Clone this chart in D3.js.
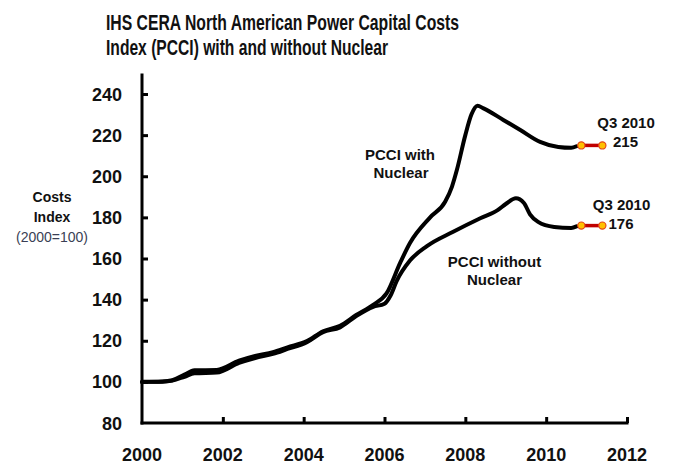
<!DOCTYPE html>
<html><head><meta charset="utf-8">
<script src="https://cdn.jsdelivr.net/npm/d3@7"></script>
<style>
html,body{margin:0;padding:0;background:#fff;}
svg{display:block;font-family:"Liberation Sans",Arial,sans-serif;}
</style></head>
<body><svg id="c" width="683" height="465"></svg>
<script>
const titleLines = ["IHS CERA North American Power Capital Costs", "Index (PCCI) with and without Nuclear"];
const yTicks = [80, 100, 120, 140, 160, 180, 200, 220, 240];
const xTicks = [2000, 2002, 2004, 2006, 2008, 2010, 2012];

const withYears = [2000, 2000.5, 2000.75, 2001.05, 2001.3, 2001.85, 2002.4, 2002.8, 2003.24, 2003.6, 2004.08, 2004.48, 2004.9, 2005.3, 2005.72, 2006.05, 2006.39, 2006.63, 2007.13, 2007.5, 2007.67, 2007.79, 2008.0, 2008.15, 2008.3, 2008.45, 2008.94, 2009.36, 2009.85, 2010.3, 2010.62, 2010.75];
const withVals  = [100, 100.2, 100.8, 103.5, 105.6, 105.8, 110.3, 112.6, 114.5, 116.8, 119.8, 124.6, 127.3, 132.5, 137.5, 143, 158, 167.5, 180, 187.6, 195, 203, 220, 230, 234.3, 233, 227.4, 222.5, 216.7, 214.2, 213.8, 214.6];

const withoutYears = [2000, 2000.5, 2000.75, 2001.05, 2001.3, 2001.85, 2002.4, 2002.8, 2003.24, 2003.6, 2004.08, 2004.48, 2004.9, 2005.3, 2005.72, 2006.0, 2006.15, 2006.3, 2006.63, 2007.05, 2007.7, 2008.37, 2008.8, 2009.0, 2009.25, 2009.45, 2009.6, 2009.8, 2010.2, 2010.62, 2010.75];
const withoutVals  = [100, 100.1, 100.6, 102.5, 104.2, 104.5, 109.2, 111.6, 113.6, 116.0, 119.3, 124.2, 126.5, 132.0, 136.5, 138, 142, 149, 159, 166, 173, 179.6, 183.5, 186.5, 189.3, 187, 181.5, 177.8, 175.3, 174.8, 175.6];

const q3Years = [2010.87, 2011.39];
const q3With = [215, 215];
const q3Without = [176, 176];
const q3Labels = ["Q3 2010", "215", "Q3 2010", "176"];
const seriesLabels = [["PCCI with", "Nuclear"], ["PCCI without", "Nuclear"]];
const yAxisLabel = ["Costs", "Index", "(2000=100)"];

const svg = d3.select("#c");
const x = d3.scaleLinear().domain([2000, 2012]).range([142, 627]);
const y = d3.scaleLinear().domain([80, 240]).range([423, 94]);
const ink = "#111";

// title
svg.append("text").attr("x", 106).attr("y", 30).attr("font-size", 21.5).attr("font-weight", "bold").attr("fill", ink)
  .attr("textLength", 353).attr("lengthAdjust", "spacingAndGlyphs").text(titleLines[0]);
svg.append("text").attr("x", 106).attr("y", 54.5).attr("font-size", 21.5).attr("font-weight", "bold").attr("fill", ink)
  .attr("textLength", 282).attr("lengthAdjust", "spacingAndGlyphs").text(titleLines[1]);

// y axis label
svg.append("text").attr("x", 52).attr("y", 202).attr("text-anchor", "middle").attr("font-size", 14).attr("font-weight", "bold").attr("fill", ink).text(yAxisLabel[0]);
svg.append("text").attr("x", 52).attr("y", 222).attr("text-anchor", "middle").attr("font-size", 14).attr("font-weight", "bold").attr("fill", ink).text(yAxisLabel[1]);
svg.append("text").attr("x", 52).attr("y", 242).attr("text-anchor", "middle").attr("font-size", 14).attr("fill", "#3a3f55").text(yAxisLabel[2]);

// axes
const yAxis = d3.axisRight(y).tickValues(yTicks.slice(1)).tickSize(6).tickFormat("");
const gy = svg.append("g").attr("transform", `translate(${x(2000)},0)`).call(yAxis);
gy.select(".domain").remove();
gy.selectAll("line").attr("stroke", "#000").attr("stroke-width", 3);
svg.append("line").attr("x1", x(2000)).attr("x2", x(2000)).attr("y1", y(250)).attr("y2", y(80) + 1.5).attr("stroke", "#000").attr("stroke-width", 3);

const xAxis = d3.axisTop(x).tickValues(xTicks.slice(1)).tickSize(6).tickFormat("");
const gx = svg.append("g").attr("transform", `translate(0,${y(80)})`).call(xAxis);
gx.select(".domain").remove();
gx.selectAll("line").attr("stroke", "#000").attr("stroke-width", 3);
svg.append("line").attr("x1", x(2000) - 1.5).attr("x2", x(2012) + 1.5).attr("y1", y(80)).attr("y2", y(80)).attr("stroke", "#000").attr("stroke-width", 3);

// tick labels
svg.append("g").selectAll("text").data(yTicks).join("text")
  .attr("x", 122).attr("y", d => y(d) + 6.5).attr("text-anchor", "end")
  .attr("font-size", 18).attr("font-weight", "bold").attr("fill", ink).text(d => d);
svg.append("g").selectAll("text").data(xTicks).join("text")
  .attr("x", d => x(d)).attr("y", 461).attr("text-anchor", "middle")
  .attr("font-size", 18).attr("font-weight", "bold").attr("fill", ink).text(d => d);

// lines
const line = d3.line().x(d => x(d[0])).y(d => y(d[1])).curve(d3.curveMonotoneX);
const withData = withYears.map((t, i) => [t, withVals[i]]);
const withoutData = withoutYears.map((t, i) => [t, withoutVals[i]]);
svg.append("path").attr("d", line(withoutData)).attr("fill", "none").attr("stroke", "#000").attr("stroke-width", 4).attr("stroke-linecap", "round").attr("stroke-linejoin", "round");
svg.append("path").attr("d", line(withData)).attr("fill", "none").attr("stroke", "#000").attr("stroke-width", 4).attr("stroke-linecap", "round").attr("stroke-linejoin", "round");

// Q3 2010 segments
[q3With, q3Without].forEach(vals => {
  const pts = q3Years.map((t, i) => [t, vals[i]]);
  svg.append("path").attr("d", d3.line().x(d => x(d[0])).y(d => y(d[1]))(pts)).attr("stroke", "#c00000").attr("stroke-width", 3.5).attr("fill", "none");
  svg.append("g").selectAll("circle").data(pts).join("circle")
    .attr("cx", d => x(d[0])).attr("cy", d => y(d[1])).attr("r", 3.6)
    .attr("fill", "#ffc000").attr("stroke", "#e4471a").attr("stroke-width", 1.2);
});

// annotations
const ann = [[626, 128, q3Labels[0]], [625.5, 147, q3Labels[1]], [621.5, 210, q3Labels[2]], [621, 229, q3Labels[3]]];
svg.append("g").selectAll("text").data(ann).join("text")
  .attr("x", d => d[0]).attr("y", d => d[1]).attr("text-anchor", "middle")
  .attr("font-size", 15).attr("font-weight", "bold").attr("fill", ink).text(d => d[2]);

const sl = [[400, 160, seriesLabels[0][0]], [401, 178, seriesLabels[0][1]], [494.5, 267, seriesLabels[1][0]], [494.5, 285, seriesLabels[1][1]]];
svg.append("g").selectAll("text").data(sl).join("text")
  .attr("x", d => d[0]).attr("y", d => d[1]).attr("text-anchor", "middle")
  .attr("font-size", 15).attr("font-weight", "bold").attr("fill", ink).text(d => d[2]);
</script></body></html>
